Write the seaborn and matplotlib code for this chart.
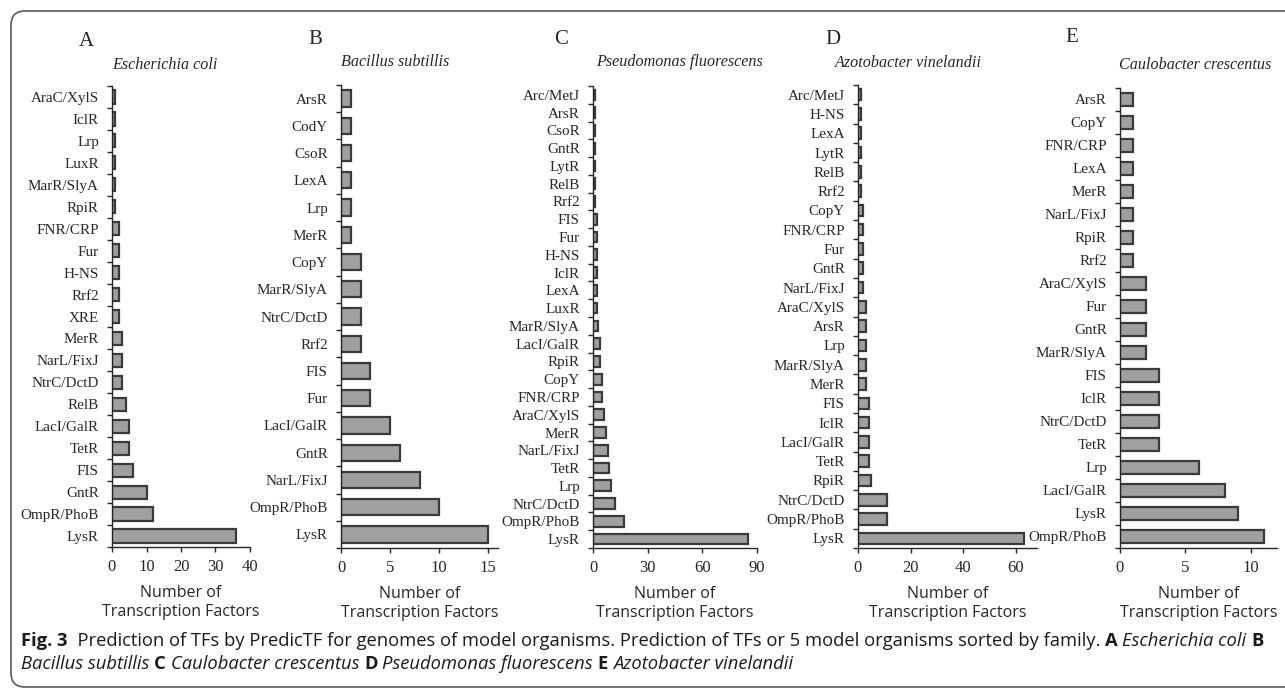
import numpy as np
import pandas as pd
import matplotlib
matplotlib.use("Agg")
import matplotlib.pyplot as plt
import seaborn as sns
from matplotlib.patches import FancyBboxPatch
from matplotlib.transforms import IdentityTransform
from matplotlib.offsetbox import TextArea, HPacker, AnnotationBbox

# ---- data: TF family counts per genome ----
ecoli_families = ["AraC/XylS", "IclR", "Lrp", "LuxR", "MarR/SlyA", "RpiR", "FNR/CRP",
                  "Fur", "H-NS", "Rrf2", "XRE", "MerR", "NarL/FixJ", "NtrC/DctD",
                  "RelB", "LacI/GalR", "TetR", "FIS", "GntR", "OmpR/PhoB", "LysR"]
ecoli_counts = [1, 1, 1, 1, 1, 1, 2, 2, 2, 2, 2, 3, 3, 3, 4, 5, 5, 6, 10, 12, 36]
ecoli_xticks = [0, 10, 20, 30, 40]

bsub_families = ["ArsR", "CodY", "CsoR", "LexA", "Lrp", "MerR", "CopY", "MarR/SlyA",
                 "NtrC/DctD", "Rrf2", "FIS", "Fur", "LacI/GalR", "GntR", "NarL/FixJ",
                 "OmpR/PhoB", "LysR"]
bsub_counts = [1, 1, 1, 1, 1, 1, 2, 2, 2, 2, 3, 3, 5, 6, 8, 10, 15]
bsub_xticks = [0, 5, 10, 15]

pflu_families = ["Arc/MetJ", "ArsR", "CsoR", "GntR", "LytR", "RelB", "Rrf2", "FIS", "Fur",
                 "H-NS", "IclR", "LexA", "LuxR", "MarR/SlyA", "LacI/GalR", "RpiR", "CopY",
                 "FNR/CRP", "AraC/XylS", "MerR", "NarL/FixJ", "TetR", "Lrp", "NtrC/DctD",
                 "OmpR/PhoB", "LysR"]
pflu_counts = [1, 1, 1, 1, 1, 1, 1, 2, 2, 2, 2, 2, 2, 3, 4, 4, 5, 5, 6, 7, 8, 9, 10, 12, 17, 85]
pflu_xticks = [0, 30, 60, 90]

avin_families = ["Arc/MetJ", "H-NS", "LexA", "LytR", "RelB", "Rrf2", "CopY", "FNR/CRP", "Fur",
                 "GntR", "NarL/FixJ", "AraC/XylS", "ArsR", "Lrp", "MarR/SlyA", "MerR", "FIS",
                 "IclR", "LacI/GalR", "TetR", "RpiR", "NtrC/DctD", "OmpR/PhoB", "LysR"]
avin_counts = [1, 1, 1, 1, 1, 1, 2, 2, 2, 2, 2, 3, 3, 3, 3, 3, 4, 4, 4, 4, 5, 11, 11, 63]
avin_xticks = [0, 20, 40, 60]

ccre_families = ["ArsR", "CopY", "FNR/CRP", "LexA", "MerR", "NarL/FixJ", "RpiR", "Rrf2",
                 "AraC/XylS", "Fur", "GntR", "MarR/SlyA", "FIS", "IclR", "NtrC/DctD", "TetR",
                 "Lrp", "LacI/GalR", "LysR", "OmpR/PhoB"]
ccre_counts = [1, 1, 1, 1, 1, 1, 1, 1, 2, 2, 2, 2, 3, 3, 3, 3, 6, 8, 9, 11]
ccre_xticks = [0, 5, 10]

panel_letters = ["A", "B", "C", "D", "E"]
organisms = ["Escherichia coli", "Bacillus subtillis", "Pseudomonas fluorescens",
             "Azotobacter vinelandii", "Caulobacter crescentus"]
x_label = "Number of\nTranscription Factors"

# ---- styling ----
W, H = 1285, 689
sns.set_style("ticks")
SERIF = ["Liberation Serif", "DejaVu Serif"]
SANS = ["Open Sans", "DejaVu Sans"]
CAPTION_FONT = ["Open Sans", "DejaVu Sans"]
plt.rcParams["font.family"] = SERIF
BAR = "#a0a0a0"
EDGE = "#3a3a3a"
AXC = "#262626"

fig = plt.figure(figsize=(W / 100, H / 100), dpi=100)
fig.patch.set_facecolor("white")


def px_rect(left, right, top, bottom):
    return [left / W, 1 - bottom / H, (right - left) / W, (bottom - top) / H]


panels = [
    (ecoli_families, ecoli_counts, ecoli_xticks, 40, (112, 250, 86, 547), (86, 42), (165, 65)),
    (bsub_families, bsub_counts, bsub_xticks, 16, (341, 498, 85, 548), (315, 40), (395, 62)),
    (pflu_families, pflu_counts, pflu_xticks, 90, (593, 757, 86, 548), (561, 40), (679, 62)),
    (avin_families, avin_counts, avin_xticks, 68, (858, 1037, 85, 548), (833, 40), (908, 63)),
    (ccre_families, ccre_counts, ccre_xticks, 12, (1120, 1277, 88, 548), (1072, 38), (1195, 65)),
]

for i, (fams, counts, xticks, xmax, rect, lxy, txy) in enumerate(panels):
    ax = fig.add_axes(px_rect(*rect))
    df = pd.DataFrame({"family": fams, "count": counts})
    sns.barplot(data=df, x="count", y="family", orient="h", color=BAR,
                edgecolor=EDGE, linewidth=1.6, width=0.6, saturation=1, ax=ax)
    n = len(fams)
    ax.set_ylim(n - 0.5, -0.5)
    ax.set_xlim(0, xmax)
    ax.set_xticks(xticks)
    ax.set_xticklabels([str(t) for t in xticks])
    ax.set_yticks(np.arange(-0.5, n, 1), minor=True)
    ax.tick_params(axis="y", which="major", length=0, pad=9.5, labelsize=10.9)
    ax.tick_params(axis="y", which="minor", length=3.6, width=1, direction="out", color=AXC)
    ax.tick_params(axis="x", which="major", length=3.6, width=1, direction="out",
                   color=AXC, pad=5, labelsize=12)
    ax.set_ylabel("")
    ax.set_xlabel(x_label, fontfamily=SANS, fontsize=11.5, labelpad=7, linespacing=1.3)
    for s in ["top", "right"]:
        ax.spines[s].set_visible(False)
    for s in ["left", "bottom"]:
        ax.spines[s].set_color(AXC)
        ax.spines[s].set_linewidth(1)
    ax.set_facecolor("white")

    fig.text(lxy[0] / W, 1 - lxy[1] / H, panel_letters[i], ha="center", va="center",
             fontsize=15, fontfamily=SERIF)
    fig.text(txy[0] / W, 1 - txy[1] / H, organisms[i], ha="center", va="center",
             fontsize=11.6, fontstyle="italic", fontfamily=SERIF)

# ---- rounded frame around the figure ----
frame = FancyBboxPatch((11, 2), 1400, H - 13, boxstyle="round,pad=0,rounding_size=14",
                       transform=IdentityTransform(), fill=False, edgecolor="#5a5a5a",
                       linewidth=1.2)
fig.add_artist(frame)

# ---- caption (mixed bold / italic runs packed on a shared baseline) ----
caption_lines = [
    [("Fig. 3", "bold", "normal"),
     ("  Prediction of TFs by PredicTF for genomes of model organisms. Prediction of TFs or "
      "5 model organisms sorted by family. ", "normal", "normal"),
     ("A", "bold", "normal"), (" ", "normal", "normal"),
     ("Escherichia coli", "normal", "italic"), (" ", "normal", "normal"),
     ("B", "bold", "normal")],
    [("Bacillus subtillis", "normal", "italic"), (" ", "normal", "normal"),
     ("C", "bold", "normal"), (" ", "normal", "normal"),
     ("Caulobacter crescentus", "normal", "italic"), (" ", "normal", "normal"),
     ("D", "bold", "normal"), (" ", "normal", "normal"),
     ("Pseudomonas fluorescens", "normal", "italic"), (" ", "normal", "normal"),
     ("E", "bold", "normal"), (" ", "normal", "normal"),
     ("Azotobacter vinelandii", "normal", "italic")],
]
caption_y = [641, 664]
caption_x0, caption_x1 = 21, 1262


def add_caption(size):
    boxes = []
    for pieces, yy in zip(caption_lines, caption_y):
        areas = [TextArea(t, textprops=dict(fontweight=w, fontstyle=st,
                                            fontfamily=CAPTION_FONT,
                                            fontsize=size, color="#1a1a1a"))
                 for t, w, st in pieces]
        pack = HPacker(children=areas, align="baseline", pad=0, sep=0)
        ab = AnnotationBbox(pack, (caption_x0, H - yy), xycoords="figure pixels",
                            box_alignment=(0, 0.5), frameon=False, pad=0)
        fig.add_artist(ab)
        boxes.append(ab)
    return boxes


# size the caption so the first line runs the full text width
base = 10.0
boxes = add_caption(base)
fig.canvas.draw()
renderer = fig.canvas.get_renderer()
width = boxes[0].get_window_extent(renderer).width
for b in boxes:
    b.remove()
add_caption(base * (caption_x1 - caption_x0) / width)

fig.savefig("out.png", dpi=100, facecolor="white")
